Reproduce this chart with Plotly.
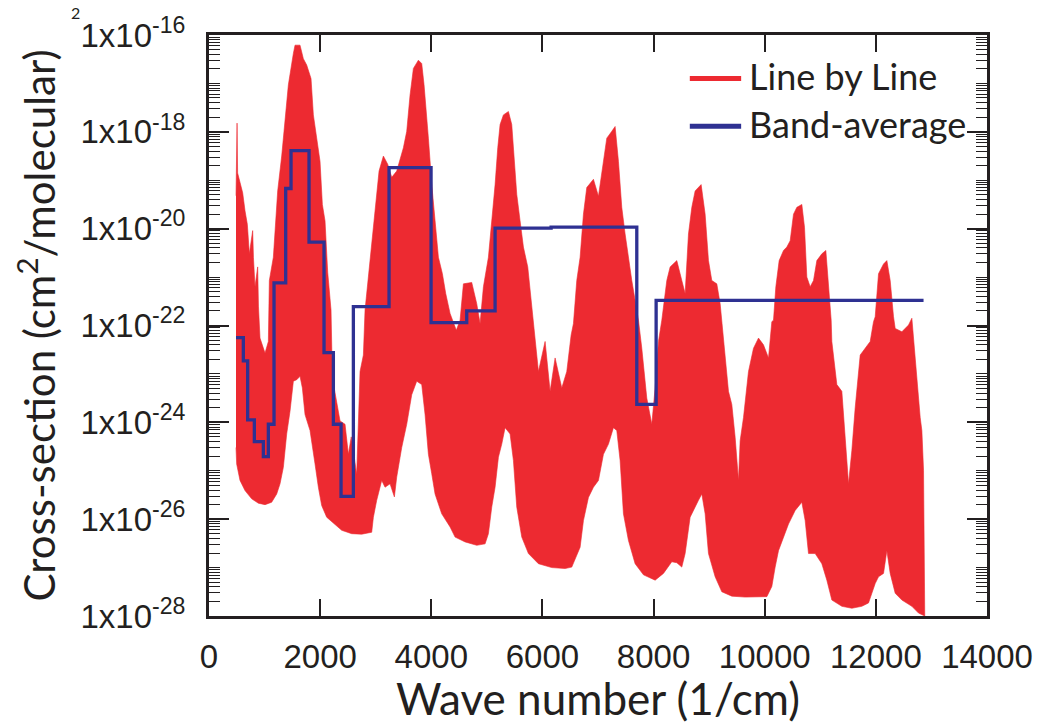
import plotly.graph_objects as go

# ---- Line-by-line spectrum envelope (wave number in 1/cm, log10 cross-section) ----
upper_wn = [486, 505, 515, 546, 606, 648, 690, 726, 786, 800, 828, 876, 890, 918, 1008, 1068, 1086, 1158,
            1236, 1308, 1368, 1428, 1518, 1548, 1638, 1698, 1758, 1836, 1878, 1938, 1998, 2040, 2088, 2136,
            2196, 2220, 2298, 2358, 2448, 2508, 2560, 2658, 2718, 2778, 2808, 2898, 2958, 3018, 3060, 3138,
            3216, 3288, 3378, 3498, 3558, 3618, 3678, 3768, 3828, 3870, 3906, 3948, 4008, 4068, 4128, 4200,
            4260, 4338, 4450, 4518, 4578, 4728, 4818, 4878, 4938, 5028, 5088, 5148, 5196, 5238, 5298, 5388,
            5448, 5496, 5538, 5598, 5658, 5736, 5796, 5850, 5928, 6048, 6138, 6228, 6348, 6438, 6516, 6558,
            6618, 6678, 6738, 6798, 6918, 7008, 7098, 7158, 7248, 7308, 7368, 7428, 7488, 7548, 7608, 7728,
            7788, 7878, 7968, 8028, 8088, 8148, 8238, 8298, 8418, 8508, 8568, 8628, 8688, 8748, 8856, 8928,
            8988, 9048, 9138, 9198, 9240, 9258, 9348, 9408, 9468, 9528, 9558, 9618, 9708, 9798, 9888, 9978,
            10068, 10128, 10158, 10200, 10260, 10338, 10398, 10458, 10518, 10578, 10668, 10716, 10758, 10818,
            10878, 10938, 11028, 11100, 11160, 11196, 11208, 11298, 11388, 11448, 11508, 11568, 11628, 11718,
            11808, 11898, 11958, 11988, 12048, 12138, 12198, 12258, 12318, 12348, 12468, 12588, 12648, 12708,
            12798, 12828, 12858, 12880]
upper_log = [-19.32, -17.82, -18.85, -18.98, -19.26, -19.63, -19.91, -20.52, -20.04, -20.6, -21.2, -20.79, -21.6,
             -22.26, -22.57, -22.33, -21.07, -20.59, -19.22, -18.5, -17.75, -17.03, -16.38, -16.21, -16.21,
             -16.49, -16.62, -16.9, -17.65, -18.13, -18.61, -19.5, -19.84, -20.9, -21.68, -23.08, -23.63,
             -23.97, -24.04, -24.66, -24.3, -25.07, -22.95, -22.61, -21.68, -20.66, -19.87, -19.22, -18.81,
             -18.5, -18.67, -18.94, -18.81, -18.33, -17.99, -17.24, -16.69, -16.52, -16.59, -17.03, -17.51,
             -18.13, -19.08, -19.84, -20.59, -20.93, -21.34, -21.75, -22.1, -21.89, -21.14, -21.11, -21.55,
             -21.96, -21.2, -20.59, -19.91, -19.09, -18.33, -17.85, -17.65, -17.58, -17.85, -18.54, -19.29,
             -19.84, -20.38, -20.79, -21.48, -22.02, -22.95, -22.33, -23.36, -22.67, -23.29, -22.95, -22.2,
             -21.96, -21.07, -20.59, -19.7, -19.15, -18.98, -19.33, -18.61, -18.13, -17.99, -17.89, -18.61,
             -19.56, -20.11, -20.59, -21.07, -21.89, -22.47, -23.5, -24.04, -23.29, -22.33, -21.89, -21.07,
             -20.79, -20.66, -21.07, -21.34, -20.11, -19.56, -19.22, -19.09, -19.7, -20.66, -21.07, -21.14,
             -21.55, -22.02, -22.33, -23.36, -23.63, -24.31, -25.2, -24.38, -23.9, -22.95, -22.47, -22.26,
             -22.4, -22.67, -21.92, -21.89, -21.2, -20.66, -20.45, -20.38, -20.25, -19.7, -19.56, -19.5,
             -19.97, -21.0, -21.2, -21.07, -20.66, -20.52, -20.45, -21.34, -21.89, -22.33, -23.22, -23.36,
             -24.24, -25.27, -24.58, -23.7, -22.61, -22.47, -22.33, -21.92, -21.82, -20.93, -20.73, -20.66,
             -21.07, -21.82, -22.06, -22.13, -21.99, -21.85, -22.74, -23.9, -24.17, -24.99, -28.0]

lower_wn = [486, 498, 558, 648, 768, 888, 1008, 1128, 1218, 1278, 1338, 1398, 1458, 1518, 1578, 1638, 1680,
            1728, 1818, 1908, 1968, 2028, 2118, 2238, 2388, 2568, 2748, 2928, 2958, 3018, 3048, 3108, 3168,
            3258, 3336, 3378, 3468, 3558, 3648, 3738, 3828, 3888, 3948, 4008, 4068, 4188, 4338, 4428, 4608,
            4818, 4968, 5028, 5088, 5148, 5208, 5268, 5328, 5418, 5478, 5538, 5628, 5748, 5928, 6168, 6408,
            6528, 6678, 6738, 6828, 6918, 7008, 7098, 7188, 7278, 7338, 7398, 7458, 7548, 7668, 7818, 8028,
            8178, 8328, 8418, 8508, 8568, 8658, 8718, 8808, 8868, 8928, 8988, 9108, 9228, 9408, 9648, 9888,
            10038, 10128, 10188, 10248, 10338, 10428, 10548, 10668, 10728, 10788, 10908, 11028, 11118, 11208,
            11388, 11568, 11748, 11868, 11988, 12048, 12138, 12198, 12258, 12348, 12468, 12648, 12768, 12880]
lower_log = [-24.52, -24.86, -25.2, -25.41, -25.58, -25.67, -25.7, -25.65, -25.48, -25.27, -24.93, -24.24,
             -23.77, -23.15, -23.12, -23.05, -23.29, -23.84, -24.17, -24.86, -25.34, -25.72, -25.96, -26.09,
             -26.23, -26.3, -26.31, -26.27, -25.96, -25.61, -25.48, -25.2, -25.34, -25.27, -25.54, -25.13,
             -24.52, -24.04, -23.43, -23.15, -23.22, -23.84, -24.66, -25.06, -25.48, -25.89, -26.16, -26.37,
             -26.47, -26.54, -26.51, -26.3, -25.75, -25.34, -24.72, -24.45, -24.11, -24.24, -24.79, -25.75,
             -26.37, -26.71, -26.92, -27.0, -27.02, -26.99, -26.58, -26.03, -25.55, -25.34, -25.2, -24.66,
             -24.45, -24.11, -24.17, -24.79, -25.89, -26.44, -26.92, -27.15, -27.26, -27.12, -26.88, -26.9,
             -26.99, -26.71, -25.96, -25.82, -25.61, -25.48, -25.89, -26.71, -27.19, -27.5, -27.59, -27.61,
             -27.6, -27.6, -27.39, -26.99, -26.65, -26.37, -26.1, -25.82, -25.65, -26.03, -26.71, -26.71,
             -26.92, -27.26, -27.67, -27.8, -27.84, -27.8, -27.73, -27.33, -27.19, -27.12, -26.65, -27.12,
             -27.53, -27.67, -27.8, -27.94, -28.0]

# ---- Band-average step values (left band edges + final edge, log10 values) ----
band_edges = [486, 618, 696, 816, 978, 1068, 1170, 1380, 1476, 1800, 2070, 2238, 2376, 2598, 3240, 3996,
              4638, 5148, 6156, 7698, 8046, 12858]
band_log = [-22.25, -22.73, -23.95, -24.4, -24.71, -24.04, -21.12, -19.17, -18.39, -20.28, -22.56, -24.04,
            -25.53, -21.61, -18.74, -21.94, -21.7, -19.99, -19.97, -23.63, -21.48]

x_ticks = [0, 2000, 4000, 6000, 8000, 10000, 12000, 14000]
y_label_exps = [-16, -18, -20, -22, -24, -26, -28]
legend_names = ["Line by Line", "Band-average"]

RED = "#ED2A31"
BLUE = "#2E3192"
INK = "#231F20"

poly_x = upper_wn + lower_wn[::-1]
poly_y = [10 ** v for v in upper_log] + [10 ** v for v in lower_log[::-1]]

band_y = [10 ** v for v in band_log] + [10 ** band_log[-1]]

fig = go.Figure()
fig.add_trace(go.Scatter(x=poly_x, y=poly_y, mode="lines", fill="toself", fillcolor=RED,
                         line=dict(color=RED, width=0.6), hoverinfo="skip",
                         name=legend_names[0], showlegend=False))
fig.add_trace(go.Scatter(x=band_edges, y=band_y, mode="lines", line_shape="hv",
                         line=dict(color=BLUE, width=3.3), name=legend_names[1], showlegend=False))

# Y ticks
major_vals = [10.0 ** e for e in y_label_exps]
major_text = ["1x10<sup>%d</sup>" % e for e in y_label_exps]
minor_vals = []
for k in range(-28, -16):
    for m in range(1, 10):
        if m == 1 and k % 2 == 0:
            continue
        minor_vals.append(m * 10.0 ** k)

tick_font = dict(family="Liberation Sans, Arial, sans-serif", size=33, color=INK)

fig.update_xaxes(range=[0, 14000], tickmode="array", tickvals=x_ticks,
                 ticktext=[str(v) for v in x_ticks],
                 ticks="inside", ticklen=17, tickwidth=1.5, tickcolor=INK,
                 showline=True, linewidth=3, linecolor=INK, mirror="allticks",
                 showgrid=False, zeroline=False, tickfont=tick_font, ticklabelstandoff=9,
                 title=dict(text="Wave number (1/cm)",
                            font=dict(family="Lato, Open Sans, sans-serif", size=44, color=INK),
                            standoff=6))
fig.update_yaxes(type="log", range=[-28, -16], tickmode="array", tickvals=major_vals, ticktext=major_text,
                 ticks="inside", ticklen=20, tickwidth=1.5, tickcolor=INK,
                 minor=dict(tickmode="array", tickvals=minor_vals, ticks="inside", ticklen=11,
                            tickwidth=1.2, tickcolor=INK, showgrid=False),
                 showline=True, linewidth=3, linecolor=INK, mirror="allticks",
                 showgrid=False, zeroline=False, tickfont=tick_font, ticklabelstandoff=14,
                 title=dict(text="Cross-section (cm<sup>2</sup>/molecular)",
                            font=dict(family="Lato, Open Sans, sans-serif", size=42, color=INK),
                            standoff=12))

# Legend (drawn in paper coordinates)
leg_font = dict(family="Lato, Open Sans, sans-serif", size=36, color=INK)
leg_rows = [(0.925, RED), (0.843, BLUE)]
for (yy, col), name in zip(leg_rows, legend_names):
    fig.add_shape(type="line", xref="paper", yref="paper", x0=0.618, x1=0.684, y0=yy, y1=yy,
                  line=dict(color=col, width=5))
    fig.add_annotation(xref="paper", yref="paper", x=0.691, y=yy + 0.004, text=name, showarrow=False,
                       xanchor="left", yanchor="middle", font=leg_font)

# Fragment of a cut-off title above the chart
fig.add_annotation(xref="paper", yref="paper", x=-0.171, y=1.038, text="2", showarrow=False,
                   xanchor="center", yanchor="middle",
                   font=dict(family="Lato, sans-serif", size=16, color=INK))

fig.update_layout(width=1049, height=724, margin=dict(l=209, r=62, t=31, b=108),
                  paper_bgcolor="white", plot_bgcolor="white", showlegend=False)

fig.write_html("out.html")
